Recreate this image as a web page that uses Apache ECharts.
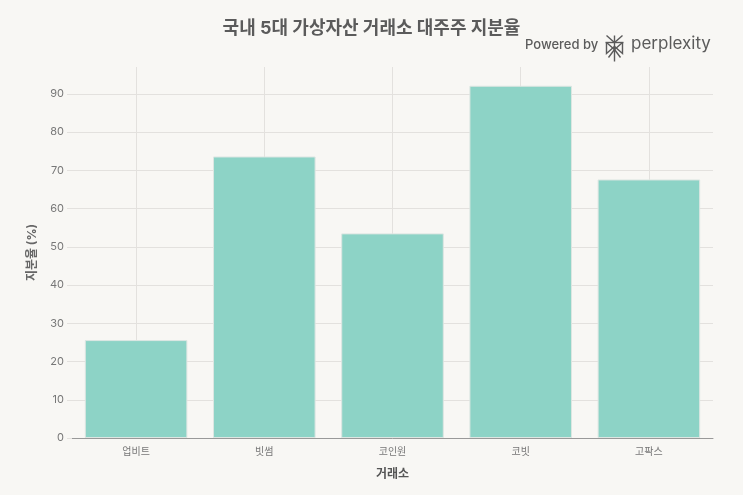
<!DOCTYPE html>
<html>
<head>
<meta charset="utf-8">
<script src="https://cdn.jsdelivr.net/npm/echarts@6/dist/echarts.min.js"></script>
<style>
  html, body { margin: 0; padding: 0; background: #f8f7f4; }
  #main { width: 743px; height: 495px; }
</style>
</head>
<body>
<div id="main"></div>
<script>
var exchanges = ['업비트', '빗썸', '코인원', '코빗', '고팍스'];
var shares = [25.6, 73.6, 53.5, 92.1, 67.6];

var font = 'Inter, "Noto Sans CJK KR", sans-serif';
var chart = echarts.init(document.getElementById('main'));

// perplexity 로고 (대략적인 모양)
var logoStroke = { stroke: '#5b5b5b', lineWidth: 1.4, fill: null };
var logo = {
    type: 'group',
    left: 603,
    top: 33,
    children: [
        { type: 'polyline', shape: { points: [[2, 7], [20, 7]] }, style: logoStroke },
        { type: 'polyline', shape: { points: [[11, 0], [11, 26]] }, style: logoStroke },
        { type: 'polyline', shape: { points: [[3, 0], [11, 7], [19, 0]] }, style: logoStroke },
        { type: 'polyline', shape: { points: [[3, 7], [3, 18], [11, 11], [19, 18], [19, 7]] }, style: logoStroke },
        { type: 'polyline', shape: { points: [[3, 7], [11, 14], [19, 7]] }, style: logoStroke },
        { type: 'polyline', shape: { points: [[5, 22], [11, 14], [17, 22]] }, style: logoStroke }
    ]
};

var option = {
    backgroundColor: '#f8f7f4',
    textStyle: { fontFamily: font },
    title: {
        text: '국내 5대 가상자산 거래소 대주주 지분율',
        left: 'center',
        top: 15,
        textStyle: { fontSize: 18, fontWeight: 'bold', color: '#5b5b5b', fontFamily: font }
    },
    graphic: [
        {
            type: 'text',
            left: 525,
            top: 39,
            style: { text: 'Powered by', fontSize: 13, fontWeight: 500, fill: '#5b5b5b', fontFamily: font }
        },
        logo,
        {
            type: 'text',
            left: 631,
            top: 35,
            style: { text: 'perplexity', fontSize: 17, fill: '#5b5b5b', fontFamily: font }
        }
    ],
    grid: { left: 72, right: 30, top: 67, bottom: 57 },
    xAxis: {
        type: 'category',
        data: exchanges,
        name: '거래소',
        nameLocation: 'middle',
        nameGap: 30,
        nameTextStyle: { fontSize: 12, fontWeight: 'bold', color: '#555', fontFamily: font },
        axisLine: { lineStyle: { color: '#999', width: 1 } },
        axisTick: { show: false },
        axisLabel: { fontSize: 10, color: '#777', margin: 9, fontFamily: font },
        splitLine: { show: true, alignWithLabel: true, lineStyle: { color: '#e3e1de' } }
    },
    yAxis: {
        type: 'value',
        min: 0,
        max: 97,
        interval: 10,
        name: '지분율 (%)',
        nameLocation: 'middle',
        nameGap: 34,
        nameTextStyle: { fontSize: 12, fontWeight: 'bold', color: '#666', fontFamily: font },
        axisLine: { show: false },
        axisTick: { show: true, length: 5, lineStyle: { color: '#e3e1de' } },
        axisLabel: { fontSize: 11, color: '#777', margin: 8, showMaxLabel: false, fontFamily: font },
        splitLine: { show: true, showMaxLine: false, lineStyle: { color: '#e3e1de' } }
    },
    series: [{
        type: 'bar',
        data: shares,
        barCategoryGap: '20%',
        itemStyle: { color: '#8dd3c6', borderColor: '#dde6e2', borderWidth: 1 }
    }]
};
chart.setOption(option);
</script>
</body>
</html>
